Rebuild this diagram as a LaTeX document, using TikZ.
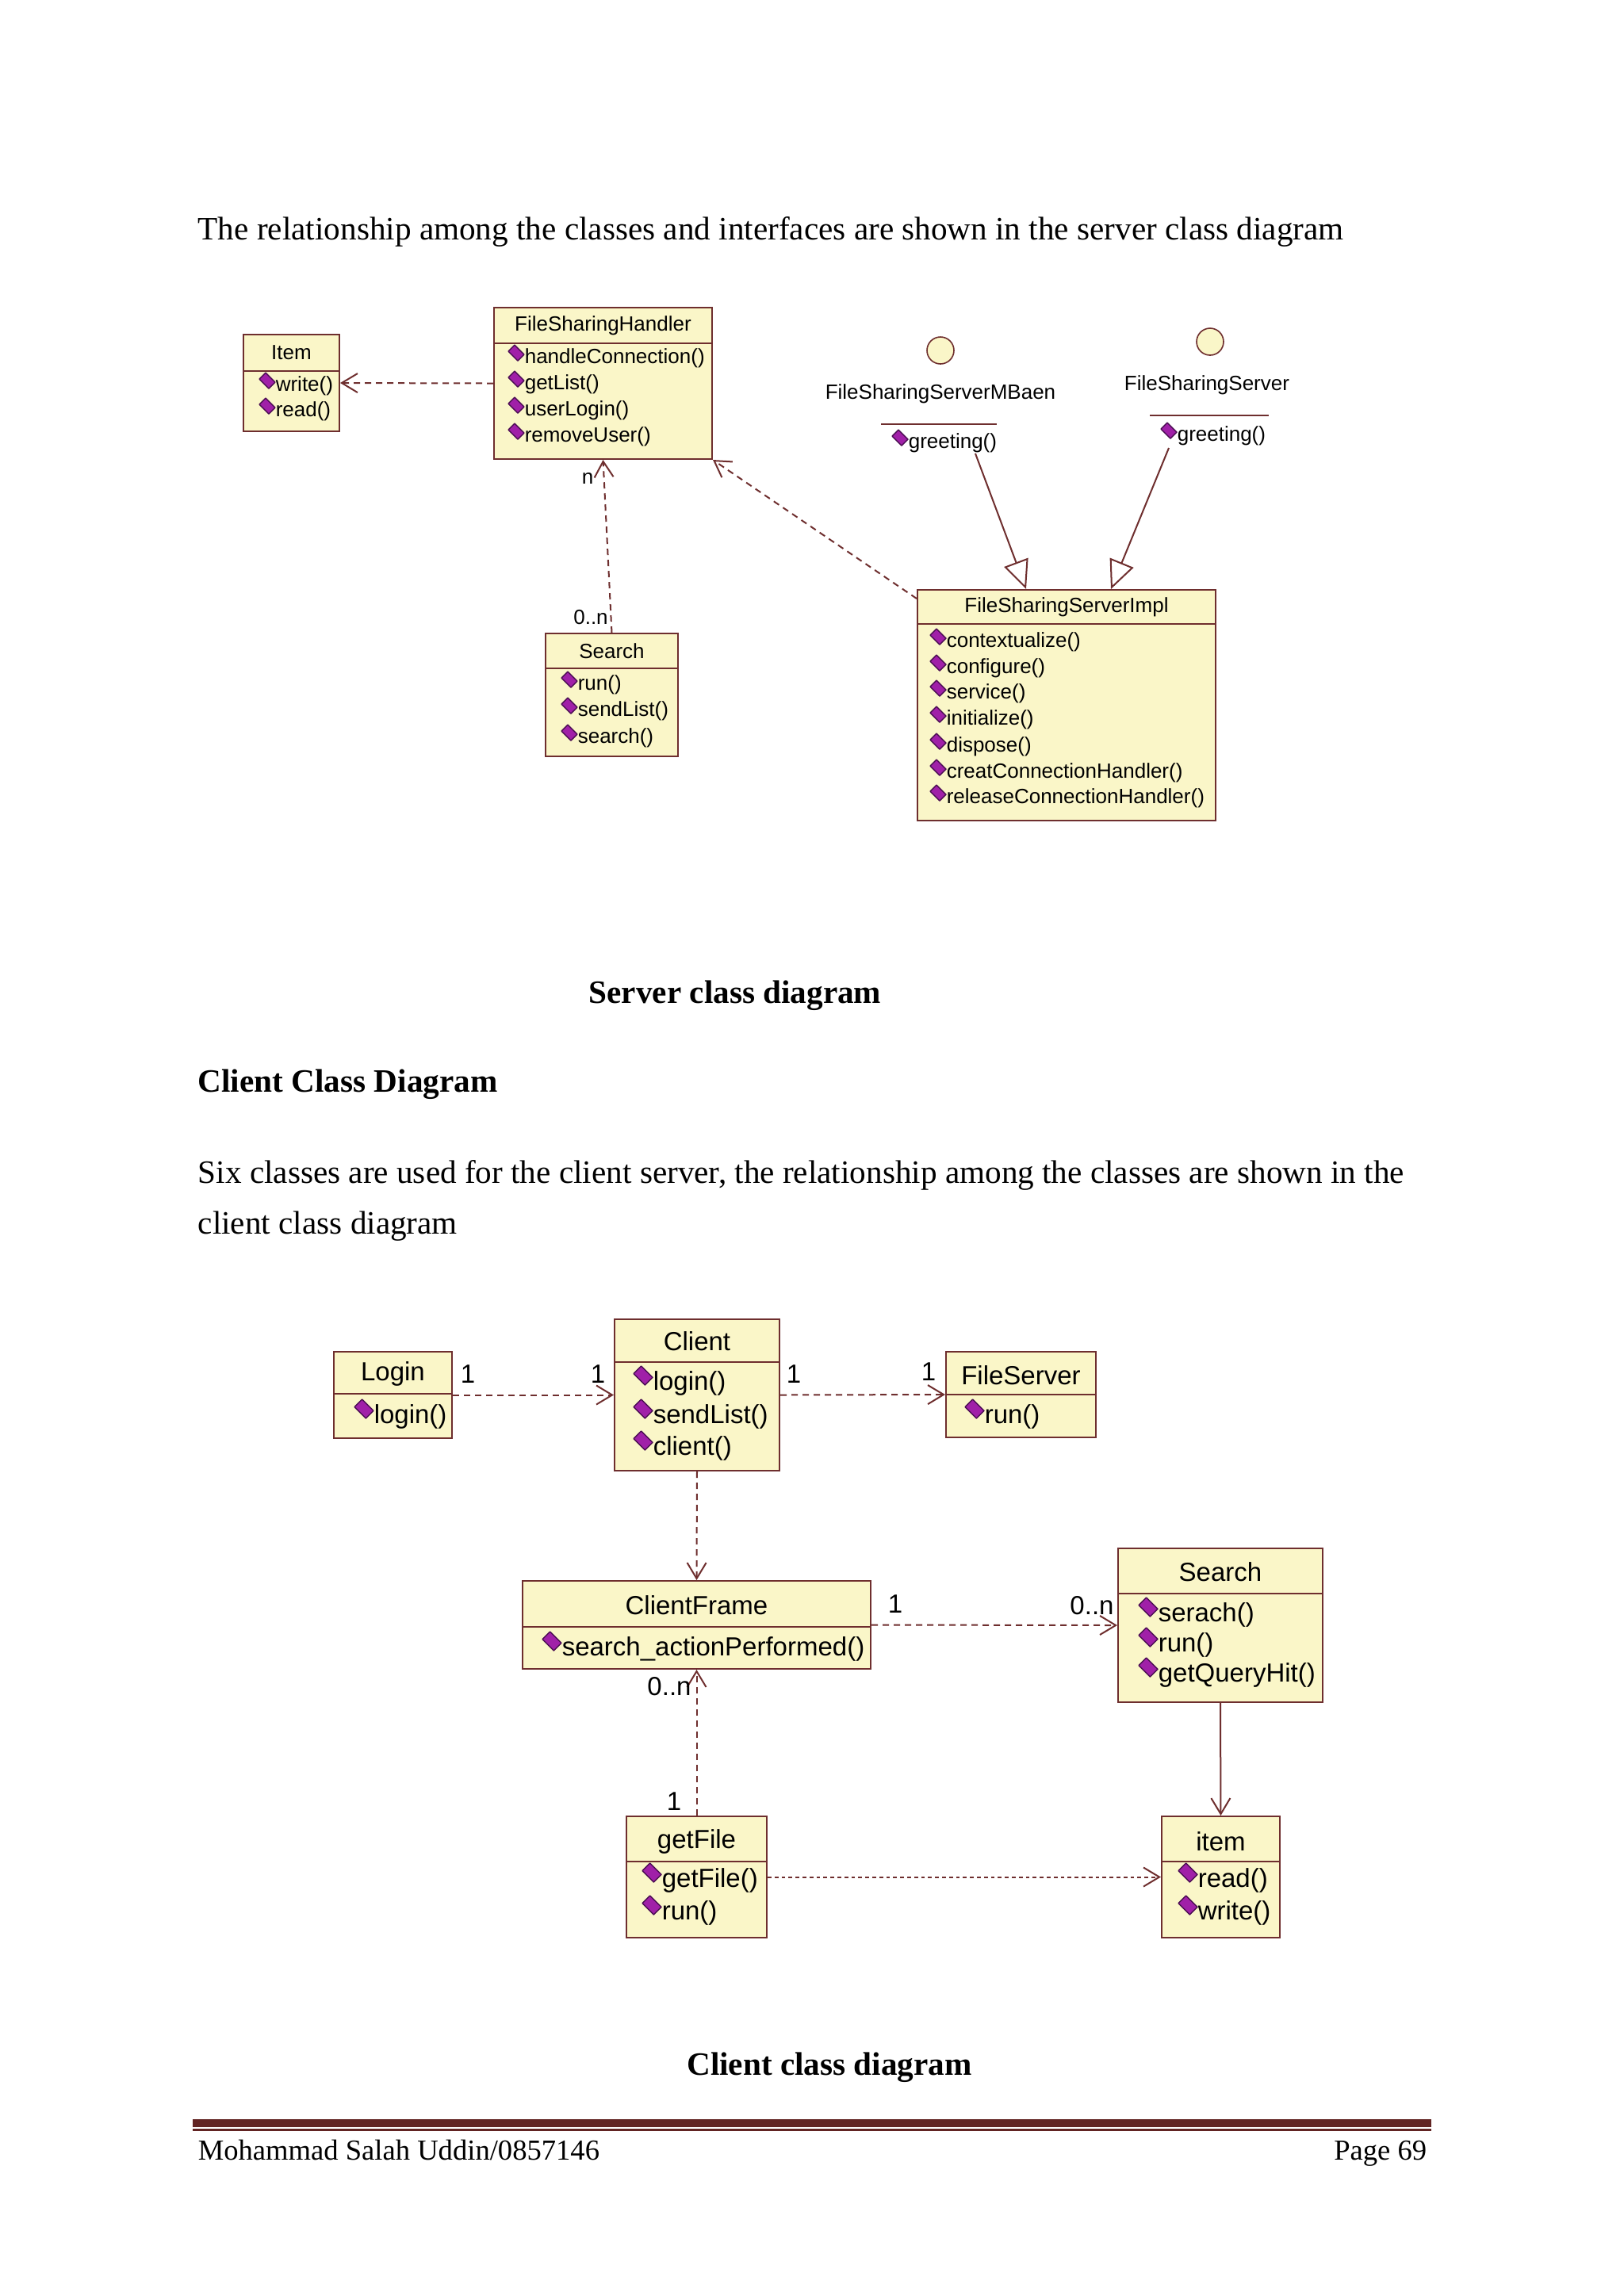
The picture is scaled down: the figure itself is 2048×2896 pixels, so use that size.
\documentclass[tikz,border=0pt]{standalone}
\usepackage{fontspec}
\setmainfont{Liberation Serif}
\newfontfamily\dsans{Liberation Sans}
\usetikzlibrary{arrows.meta,fit,calc}
\definecolor{boxfill}{HTML}{FAF6C8}
\definecolor{boxline}{HTML}{6E2E2E}
\definecolor{diamfill}{HTML}{A020A8}
\definecolor{diamline}{HTML}{4A0E52}
\definecolor{rulered}{HTML}{622423}
\newcommand\ubox[6]{%
  \node[classbox, fit={(#2,#3) (#4,#5)}] (#1) {};
  \draw[boxline, line width=0.5pt] (#2,#6) -- (#4,#6);}
\newcommand\opS[4]{%
  \path[diam] (#2-10,#3-7) +(-10,-2) -- +(-2,-10) -- +(10,2) -- +(2,10) -- cycle;
  \node[optS] (#1) at (#2,#3) {#4};}
\newcommand\opC[4]{%
  \path[diam] (#2-12,#3-10) +(-12,-2.4) -- +(-2.4,-12) -- +(12,2.4) -- +(2.4,12) -- cycle;
  \node[optC] (#1) at (#2,#3) {#4};}
\begin{document}
\begin{tikzpicture}[x=0.25pt,y=-0.25pt,
  classbox/.style={draw=boxline, fill=boxfill, line width=0.5pt, inner sep=0pt},
  sfont/.style={font=\dsans\fontsize{6.5}{7.5}\selectfont, inner sep=0pt},
  cfont/.style={font=\dsans\fontsize{8.25}{9.5}\selectfont, inner sep=0pt},
  optS/.style={sfont, anchor=west},
  optC/.style={cfont, anchor=west},
  diam/.style={fill=diamfill, draw=diamline, line width=0.35pt, line join=round},
  dep/.style={draw=boxline, line width=0.5pt, dash pattern=on 2pt off 1.5pt,
    -{Straight Barb[length=5pt,width=6pt]}},
  dotarr/.style={draw=boxline, line width=0.5pt, dash pattern=on 1.2pt off 1pt,
    -{Straight Barb[length=5pt,width=6pt]}},
  solidarr/.style={draw=boxline, line width=0.5pt, -{Straight Barb[length=5pt,width=6pt]}},
  real/.style={draw=boxline, line width=0.5pt, -{Triangle[open,length=9pt,width=8pt]}},
  body/.style={font=\fontsize{10.3}{12}\selectfont, inner sep=0pt},
  bodyb/.style={font=\bfseries\fontsize{10.3}{12}\selectfont, inner sep=0pt},
  foot/.style={font=\fontsize{9.15}{10}\selectfont, inner sep=0pt}]
\useasboundingbox (0,0) rectangle (2048,2896);
\fill[white] (0,0) rectangle (2048,2896);

% ---------- page text ----------
\node[body, anchor=base west] (t1) at (249,302) {The relationship among the classes and interfaces are shown in the server class diagram};
\node[bodyb, anchor=base] (cap1) at (927,1265) {Server class diagram};
\node[bodyb, anchor=base west] (h2) at (249,1377) {Client Class Diagram};
\node[body, anchor=base west] (p2a) at (249,1492) {Six classes are used for the client server, the relationship among the classes are shown in the};
\node[body, anchor=base west] (p2b) at (249,1556) {client class diagram};
\node[bodyb, anchor=base] (cap2) at (1046,2617) {Client class diagram};

% ---------- footer ----------
\fill[rulered] (243,2673) rectangle (1805,2683);
\fill[rulered] (243,2685) rectangle (1805,2688);
\node[foot, anchor=base west] (f1) at (249,2724) {Mohammad Salah Uddin/0857146};
\node[foot, anchor=base east] (f2) at (1800,2724) {Page 69};

% ---------- server diagram ----------
\ubox{item}{307}{422}{428}{544}{468}
\node[sfont] (itemT) at (367.5,445) {Item};
\opS{itemA}{347}{487}{write()}
\opS{itemB}{347}{519}{read()}

\ubox{fsh}{623}{388}{898}{579}{433}
\node[sfont] (fshT) at (760.5,411) {FileSharingHandler};
\opS{fshA}{661}{452}{handleConnection()}
\opS{fshB}{661}{485}{getList()}
\opS{fshC}{661}{518}{userLogin()}
\opS{fshD}{661}{551}{removeUser()}

\ubox{srch}{688}{799}{855}{954}{843}
\node[sfont] (srchT) at (771.5,821) {Search};
\opS{srchA}{728}{864}{run()}
\opS{srchB}{728}{897}{sendList()}
\opS{srchC}{728}{931}{search()}

\ubox{impl}{1157}{744}{1533}{1035}{787}
\node[sfont] (implT) at (1345,766) {FileSharingServerImpl};
\opS{implA}{1193}{810}{contextualize()}
\opS{implB}{1193}{843}{configure()}
\opS{implC}{1193}{875}{service()}
\opS{implD}{1193}{908}{initialize()}
\opS{implE}{1193}{942}{dispose()}
\opS{implF}{1193}{975}{creatConnectionHandler()}
\opS{implG}{1193}{1007}{releaseConnectionHandler()}

% interfaces
\node[circle, draw=boxline, fill=boxfill, line width=0.4pt, minimum size=8.5pt, inner sep=0pt] (mbc) at (1186,442) {};
\node[sfont] (mbl) at (1186,497) {FileSharingServerMBaen};
\draw[boxline, line width=0.4pt] (1111,535) -- (1257,535);
\opS{mbop}{1145}{559}{greeting()}

\node[circle, draw=boxline, fill=boxfill, line width=0.4pt, minimum size=8.5pt, inner sep=0pt] (fssc) at (1526,431) {};
\node[sfont] (fssl) at (1522,486) {FileSharingServer};
\draw[boxline, line width=0.4pt] (1450,524) -- (1600,524);
\opS{fssop}{1484}{550}{greeting()}

% server connectors
\draw[dep] (fsh.west) -- (item.east);
\draw[dep] (srch.north) -- (fsh.south);
\draw[dep] ([yshift=-3pt]impl.north west) -- (fsh.south east);
\coordinate (mbfoot) at (1230,572);
\coordinate (fssfoot) at (1474,565);
\draw[real] (mbfoot) -- ($(impl.north west)+(138,0)$);
\draw[real] (fssfoot) -- ($(impl.north west)+(245,0)$);
\node[sfont] (mn1) at (741,603) {n};
\node[sfont] (mn2) at (745,779) {0..n};

% ---------- client diagram ----------
\ubox{login}{421}{1705}{570}{1814}{1758}
\node[cfont] (loginT) at (495.5,1733) {Login};
\opC{loginA}{471}{1787}{login()}

\ubox{client}{775}{1664}{983}{1855}{1718}
\node[cfont] (clientT) at (879,1692) {Client};
\opC{clientA}{823}{1745}{login()}
\opC{clientB}{823}{1787}{sendList()}
\opC{clientC}{823}{1827}{client()}

\ubox{fserv}{1193}{1705}{1382}{1813}{1759}
\node[cfont] (fservT) at (1287.5,1735) {FileServer};
\opC{fservA}{1241}{1787}{run()}

\ubox{cframe}{659}{1994}{1098}{2105}{2052}
\node[cfont] (cframeT) at (878.5,2025) {ClientFrame};
\opC{cframeA}{708}{2080}{search\_actionPerformed()}

\ubox{csearch}{1410}{1953}{1668}{2147}{2010}
\node[cfont] (csearchT) at (1539,1983) {Search};
\opC{csearchA}{1460}{2037}{serach()}
\opC{csearchB}{1460}{2075}{run()}
\opC{csearchC}{1460}{2113}{getQueryHit()}

\ubox{getfile}{790}{2291}{967}{2444}{2348}
\node[cfont] (getfileT) at (878.5,2323) {getFile};
\opC{getfileA}{834}{2372}{getFile()}
\opC{getfileB}{834}{2413}{run()}

\ubox{citem}{1465}{2291}{1614}{2444}{2348}
\node[cfont] (citemT) at (1539.5,2323) {item};
\opC{citemA}{1510}{2372}{read()}
\opC{citemB}{1510}{2413}{write()}

% client connectors
\draw[dep] (login.east) -- (client.west);
\draw[dep] (client.east) -- (fserv.west);
\draw[dep] (client.south) -- (cframe.north);
\draw[dep] (cframe.east) -- (csearch.west);
\draw[dep] (getfile.north) -- (cframe.south);
\draw[solidarr] (csearch.south) -- (citem.north);
\draw[dotarr] (getfile.east) -- (citem.west);

\node[cfont] (m1) at (590,1733) {1};
\node[cfont] (m2) at (754,1733) {1};
\node[cfont] (m3) at (1001,1733) {1};
\node[cfont] (m4) at (1171,1730) {1};
\node[cfont] (m5) at (1129,2023) {1};
\node[cfont] (m6) at (1377,2025) {0..n};
\node[cfont] (m7) at (844,2127) {0..n};
\node[cfont] (m8) at (850,2272) {1};
\end{tikzpicture}
\end{document}
